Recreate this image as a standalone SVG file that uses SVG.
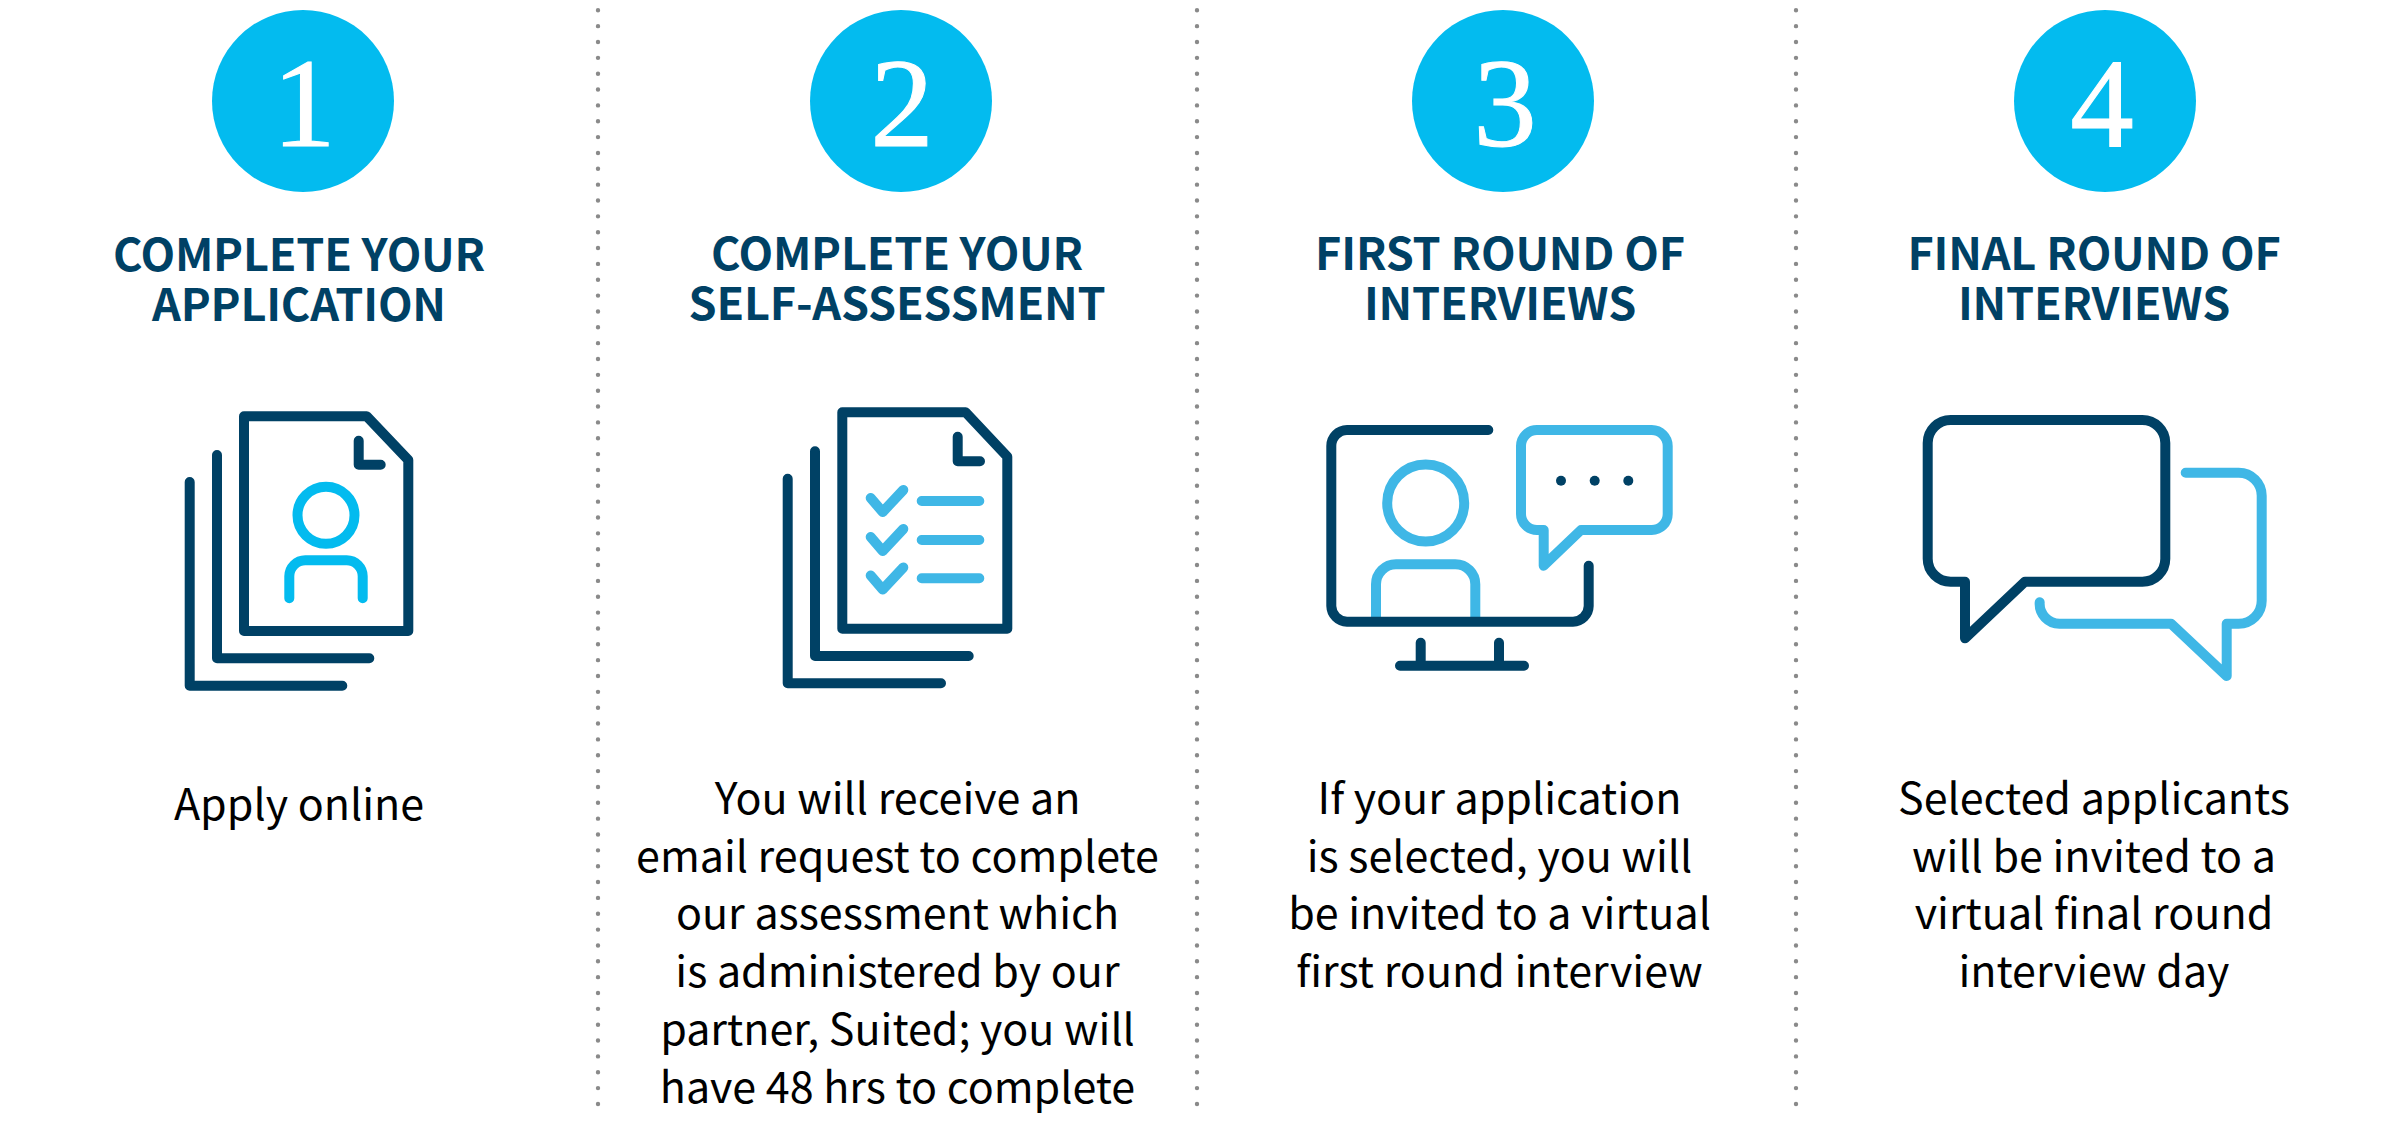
<svg xmlns="http://www.w3.org/2000/svg" width="2400" height="1128" viewBox="0 0 2400 1128">
<style>
.badge{fill:#03bbef}
.num{font-family:"Liberation Serif",serif;font-size:127px;fill:#fff;stroke:#fff;stroke-width:1;text-anchor:middle}
.title{font-family:"Noto Sans CJK SC","Noto Sans",sans-serif;font-weight:700;font-size:45px;letter-spacing:-.2px;fill:#004165;text-anchor:middle}
.body{font-family:"Noto Sans CJK SC","Noto Sans",sans-serif;font-weight:400;font-size:43px;fill:#000;text-anchor:middle}
.d,.c,.l{fill:none;stroke-width:10;stroke-linecap:round;stroke-linejoin:round}
.d{stroke:#004165}.c{stroke:#03bbef}.l{stroke:#3fb7e6}
.div{stroke:#8a8a8a;stroke-width:4.4;stroke-linecap:round;stroke-dasharray:0 15.85;fill:none}
</style>
<rect width="2400" height="1128" fill="#fff"/>
<g id="connectors">
<line class="div" x1="598" y1="10.3" x2="598" y2="1105"/>
<line class="div" x1="1197" y1="10.3" x2="1197" y2="1105"/>
<line class="div" x1="1796" y1="10.3" x2="1796" y2="1105"/>
</g>
<g id="step-1">
<circle class="badge" cx="303" cy="101" r="91"/>
<text class="num" x="304" y="146">1</text>
<text class="title" x="299" y="271">COMPLETE YOUR</text>
<text class="title" x="299" y="321">APPLICATION</text>
<path class="d" d="M366.7 416.3H244V631H408.3V460Z"/>
<path class="d" d="M358.7 440.7V464.7H380.7M217 455V658.3H369.3M189.7 482V685.7H342.3"/>
<circle class="c" cx="326" cy="515.3" r="28.5"/>
<path class="c" d="M289.3 598.3V576.3A16 16 0 0 1 305.3 560.3H346.7A16 16 0 0 1 362.7 576.3V598.3"/>
<text class="body" x="299" y="820">Apply online</text>
</g>
<g id="step-2">
<circle class="badge" cx="901" cy="101" r="91"/>
<text class="num" x="902" y="146">2</text>
<text class="title" x="897" y="270">COMPLETE YOUR</text>
<text class="title" x="897" y="320">SELF-ASSESSMENT</text>
<path class="d" d="M965.7 412.3H842.3V628.7H1007.3V456.7Z"/>
<path class="d" d="M957.7 436.7V461.3H980M815 451.3V656H968.7M787.7 478.7V683.3H941"/>
<path class="l" d="M870.7 498L882.7 512L903.3 490M870.7 537L882.7 551L903.3 529M870.7 575.5L882.7 589.5L903.3 567.5M921.7 501H979.3M921.7 540H979.3M921.7 578.3H979.3"/>
<text class="body" x="897.5" y="813.5">You will receive an</text>
<text class="body" x="897.5" y="871.5">email request to complete</text>
<text class="body" x="897.5" y="928.5">our assessment which</text>
<text class="body" x="897.5" y="986.5">is administered by our</text>
<text class="body" x="897.5" y="1044.5">partner, Suited; you will</text>
<text class="body" x="897.5" y="1102.5">have 48 hrs to complete</text>
</g>
<g id="step-3">
<circle class="badge" cx="1503" cy="101" r="91"/>
<text class="num" x="1505" y="146">3</text>
<text class="title" x="1500" y="270">FIRST ROUND OF</text>
<text class="title" x="1500" y="320">INTERVIEWS</text>
<circle class="l" cx="1425.7" cy="503" r="38.5"/>
<path class="l" style="stroke-linecap:butt" d="M1376 621V584.3A20 20 0 0 1 1396 564.3H1455.3A20 20 0 0 1 1475.3 584.3V621"/>
<path class="d" d="M1488.3 430H1347A16 16 0 0 0 1331.3 446V606A16 16 0 0 0 1347 621.7H1573A16 16 0 0 0 1588.7 606V565.7"/>
<path class="d" d="M1400 665.7H1524M1420.7 642.7V665.7M1499 642.7V665.7"/>
<path class="l" d="M1537 430H1651.7A16 16 0 0 1 1667.7 446V514A16 16 0 0 1 1651.7 530H1581L1543.7 565.7V530H1537A16 16 0 0 1 1521 514V446A16 16 0 0 1 1537 430Z"/>
<circle cx="1561" cy="480.7" r="5" fill="#004165"/>
<circle cx="1594.7" cy="480.7" r="5" fill="#004165"/>
<circle cx="1628.3" cy="480.7" r="5" fill="#004165"/>
<text class="body" x="1499.5" y="813.5">If your application</text>
<text class="body" x="1499.5" y="871.5">is selected, you will</text>
<text class="body" x="1499.5" y="928.5">be invited to a virtual</text>
<text class="body" x="1499.5" y="986.5">first round interview</text>
</g>
<g id="step-4">
<circle class="badge" cx="2105" cy="101" r="91"/>
<text class="num" x="2102" y="146">4</text>
<text class="title" x="2094" y="270">FINAL ROUND OF</text>
<text class="title" x="2094" y="320">INTERVIEWS</text>
<path class="d" d="M1951 420H2142A23 23 0 0 1 2165.3 443V558.7A23 23 0 0 1 2142 581.7H2025L1965 638.3V581.7H1951A23 23 0 0 1 1927.7 558.7V443A23 23 0 0 1 1951 420Z"/>
<path class="l" d="M2185.7 472.7H2238.7A23 23 0 0 1 2261.7 495.7V600.7A23 23 0 0 1 2238.7 623.7H2226.7V676L2171 623.7H2060A20 20 0 0 1 2039.7 602.3"/>
<text class="body" x="2094" y="813.5">Selected applicants</text>
<text class="body" x="2094" y="871.5">will be invited to a</text>
<text class="body" x="2094" y="928.5">virtual final round</text>
<text class="body" x="2094" y="986.5">interview day</text>
</g>
</svg>
